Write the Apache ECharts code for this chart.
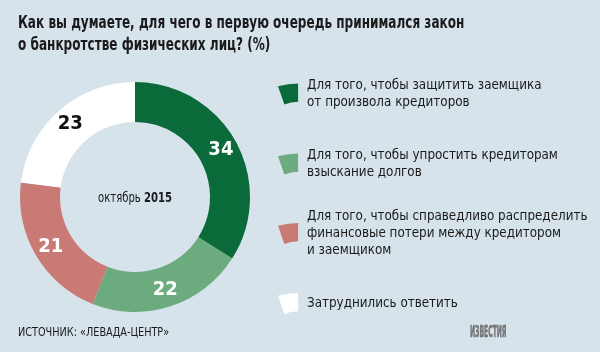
<!DOCTYPE html>
<html>
<head>
<meta charset="utf-8">
<script src="https://cdn.jsdelivr.net/npm/echarts@6/dist/echarts.min.js"></script>
<style>
  html, body { margin: 0; padding: 0; background: #d6e3eb; }
  #chart { width: 600px; height: 352px; }
</style>
</head>
<body>
<div id="chart"></div>
<script>
// данные опроса
const answers = [
  'Для того, чтобы защитить заемщика\nот произвола кредиторов',
  'Для того, чтобы упростить кредиторам\nвзыскание долгов',
  'Для того, чтобы справедливо распределить\nфинансовые потери между кредитором\nи заемщиком',
  'Затруднились ответить'
]
const shares = [34, 22, 21, 23]
const colors = ['#0a6a3a', '#6cab7d', '#c97a74', '#ffffff']
const labelColors = ['#ffffff', '#ffffff', '#ffffff', '#111111']

const font = '"DejaVu Sans Condensed", "Liberation Sans Narrow", sans-serif'
// маркер легенды - кусочек кольца
const markerPath = 'path://M0,3 Q11,0 22,0 L22,20 Q14,20 7,23 Z'

const chart = echarts.init(document.getElementById('chart'))

// у каждой строки легенды своя позиция (центр маркера ~93, 163, 233, 304)
const legendTops = [77, 147, 208, 293]
const legends = answers.map((name, i) => ({
  data: [name],
  left: 278,
  top: legendTops[i],
  padding: 0,
  orient: 'vertical',
  icon: markerPath,
  itemWidth: 22,
  itemHeight: 21,
  itemGap: 8,
  selectedMode: false,
  textStyle: {
    fontFamily: font,
    fontSize: 13.3,
    lineHeight: 17,
    padding: [0, 0, 0, 3],
    color: '#1a1a1a'
  }
}))

const option = {
  backgroundColor: '#d6e3eb',
  legend: legends,
  series: [
    {
      type: 'pie',
      radius: [75, 115],
      center: [135, 197],
      startAngle: 90,
      clockwise: true,
      silent: true,
      data: shares.map((v, i) => ({
        name: answers[i],
        value: v,
        itemStyle: { color: colors[i] },
        label: { color: labelColors[i] }
      })),
      label: {
        position: 'inside',
        formatter: '{c}',
        fontFamily: font,
        fontSize: 20,
        fontWeight: 'bold'
      },
      labelLine: { show: false }
    }
  ],
  // узкий шрифт оригинала имитируем сжатием по горизонтали
  graphic: [
    {
      type: 'text',
      x: 18,
      y: 12,
      scaleX: 0.745,
      style: {
        text: 'Как вы думаете, для чего в первую очередь принимался закон\nо банкротстве физических лиц? (%)',
        fontFamily: font,
        fontSize: 18,
        fontWeight: 'bold',
        lineHeight: 22,
        fill: '#1a1a1a'
      }
    },
    {
      type: 'text',
      x: 135,
      y: 198,
      scaleX: 0.8,
      style: {
        text: '{a|октябрь }{b|2015}',
        align: 'center',
        verticalAlign: 'middle',
        rich: {
          a: { fontFamily: font, fontSize: 14, fill: '#1a1a1a' },
          b: { fontFamily: font, fontSize: 14, fontWeight: 'bold', fill: '#1a1a1a' }
        }
      }
    },
    {
      type: 'text',
      x: 18,
      y: 333,
      scaleX: 0.83,
      style: {
        text: 'ИСТОЧНИК: «ЛЕВАДА-ЦЕНТР»',
        verticalAlign: 'middle',
        fontFamily: font,
        fontSize: 13,
        fill: '#1a1a1a'
      }
    },
    {
      type: 'text',
      x: 470,
      y: 333,
      scaleX: 0.45,
      style: {
        text: 'ИЗВЕСТИЯ',
        verticalAlign: 'middle',
        fontFamily: font,
        fontSize: 15,
        fontWeight: 'bold',
        fill: '#737373',
        stroke: '#737373',
        lineWidth: 0.6
      }
    }
  ]
}

chart.setOption(option)
</script>
</body>
</html>
